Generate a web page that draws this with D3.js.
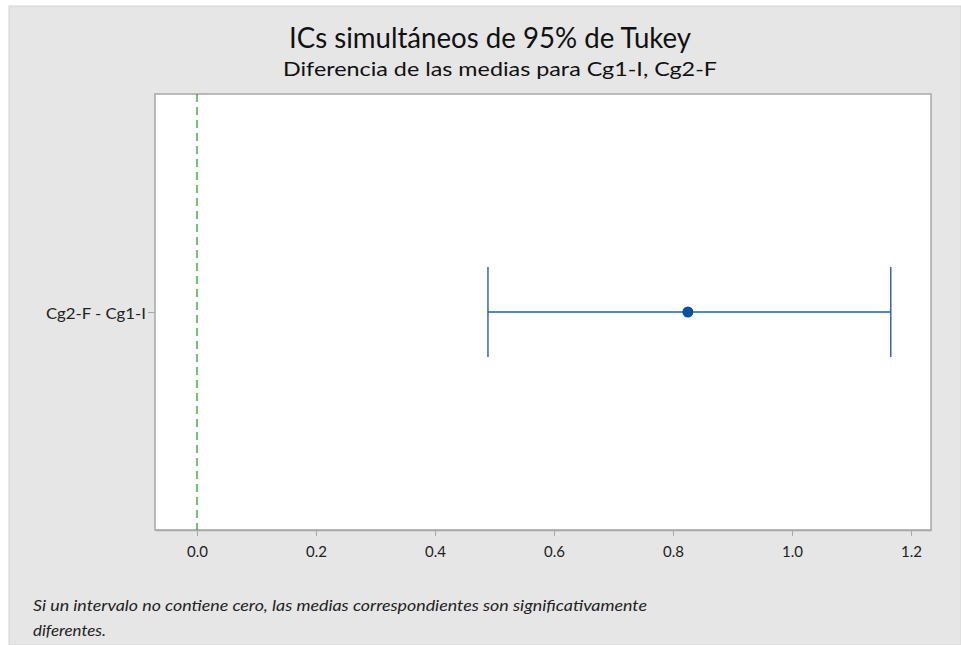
<!DOCTYPE html>
<html>
<head>
<meta charset="utf-8">
<script src="https://cdn.jsdelivr.net/npm/d3@7"></script>
<style>
  html, body { margin: 0; padding: 0; background: #fff; }
  svg { display: block; font-family: Lato, "Open Sans", sans-serif; }
</style>
</head>
<body>
<svg id="chart" width="961" height="645"></svg>
<script>
// data
const comparisons = ['Cg2-F - Cg1-I'];
const centers = [0.825];
const lowers = [0.489];
const uppers = [1.166];
const xTicks = [0.0, 0.2, 0.4, 0.6, 0.8, 1.0, 1.2];

const svg = d3.select('#chart');
const W = 961, H = 645;

// background panel
svg.append('rect').attr('x', 9).attr('y', 6).attr('width', W - 9).attr('height', H - 6)
  .attr('fill', '#e6e6e6').attr('stroke', '#d6d6d6').attr('stroke-width', 1);

const plot = { left: 155, right: 931, top: 94, bottom: 530 };

const x = d3.scaleLinear()
  .domain([-0.0706, 1.2336])
  .range([plot.left, plot.right]);

const y = d3.scalePoint()
  .domain(comparisons)
  .range([plot.top, plot.bottom])
  .padding(0.98);

// plot area
svg.append('rect')
  .attr('x', plot.left).attr('y', plot.top)
  .attr('width', plot.right - plot.left).attr('height', plot.bottom - plot.top)
  .attr('fill', '#fff').attr('stroke', '#a8a8a8').attr('stroke-width', 1.5);

// x axis
const xAxis = svg.append('g')
  .attr('transform', `translate(0,${plot.bottom})`)
  .call(d3.axisBottom(x).tickValues(xTicks).tickFormat(d3.format('.1f')).tickSize(6).tickSizeOuter(0))
  .attr('font-family', null).attr('font-size', null);
xAxis.select('.domain').attr('stroke', '#a8a8a8').attr('stroke-width', 1.5);
xAxis.selectAll('.tick line').attr('stroke', '#a8a8a8');
xAxis.selectAll('.tick text').attr('fill', '#222').attr('font-size', 15).attr('dy', '1.2em');

// y axis
const yAxis = svg.append('g')
  .attr('transform', `translate(${plot.left},0)`)
  .call(d3.axisLeft(y).tickSize(7).tickSizeOuter(0))
  .attr('font-family', null).attr('font-size', null);
yAxis.select('.domain').remove();
yAxis.selectAll('.tick line').attr('stroke', '#a8a8a8');
yAxis.selectAll('.tick text').attr('fill', '#222').attr('font-size', 15).attr('x', -9).attr('dy', '0.4em')
  .attr('textLength', 100).attr('lengthAdjust', 'spacingAndGlyphs');

// zero reference line
svg.append('line')
  .attr('x1', x(0)).attr('x2', x(0))
  .attr('y1', plot.top).attr('y2', plot.bottom)
  .attr('stroke', '#2ca02c').attr('stroke-width', 1.3)
  .attr('stroke-dasharray', '8,5');

// intervals
const blue = '#1f5fa8';
const rows = comparisons.map((c, i) => ({ c, m: centers[i], lo: lowers[i], hi: uppers[i] }));
const g = svg.append('g');
g.selectAll('.ci').data(rows).join('line')
  .attr('x1', d => x(d.lo)).attr('x2', d => x(d.hi))
  .attr('y1', d => y(d.c)).attr('y2', d => y(d.c))
  .attr('stroke', blue).attr('stroke-width', 1.6);
g.selectAll('.capl').data(rows).join('line')
  .attr('x1', d => x(d.lo)).attr('x2', d => x(d.lo))
  .attr('y1', d => y(d.c) - 45).attr('y2', d => y(d.c) + 45)
  .attr('stroke', blue).attr('stroke-width', 1.4);
g.selectAll('.caph').data(rows).join('line')
  .attr('x1', d => x(d.hi)).attr('x2', d => x(d.hi))
  .attr('y1', d => y(d.c) - 45).attr('y2', d => y(d.c) + 45)
  .attr('stroke', blue).attr('stroke-width', 1.4);
g.selectAll('circle').data(rows).join('circle')
  .attr('cx', d => x(d.m)).attr('cy', d => y(d.c)).attr('r', 5.5)
  .attr('fill', '#0b4fa0');

// titles
svg.append('text').attr('x', 490).attr('y', 48).attr('text-anchor', 'middle')
  .attr('font-size', 28).attr('fill', '#111')
  .attr('textLength', 402).attr('lengthAdjust', 'spacingAndGlyphs')
  .text('ICs simultáneos de 95% de Tukey');
svg.append('text').attr('x', 500).attr('y', 76).attr('text-anchor', 'middle')
  .attr('font-size', 19).attr('fill', '#111')
  .attr('textLength', 434).attr('lengthAdjust', 'spacingAndGlyphs')
  .text('Diferencia de las medias para Cg1-I, Cg2-F');

// footnote
svg.append('text').attr('x', 33).attr('y', 611)
  .attr('font-size', 15).attr('font-style', 'italic').attr('fill', '#222')
  .attr('textLength', 614).attr('lengthAdjust', 'spacingAndGlyphs')
  .text('Si un intervalo no contiene cero, las medias correspondientes son significativamente');
svg.append('text').attr('x', 33).attr('y', 636)
  .attr('font-size', 15).attr('font-style', 'italic').attr('fill', '#222')
  .attr('textLength', 73).attr('lengthAdjust', 'spacingAndGlyphs')
  .text('diferentes.');
</script>
</body>
</html>
